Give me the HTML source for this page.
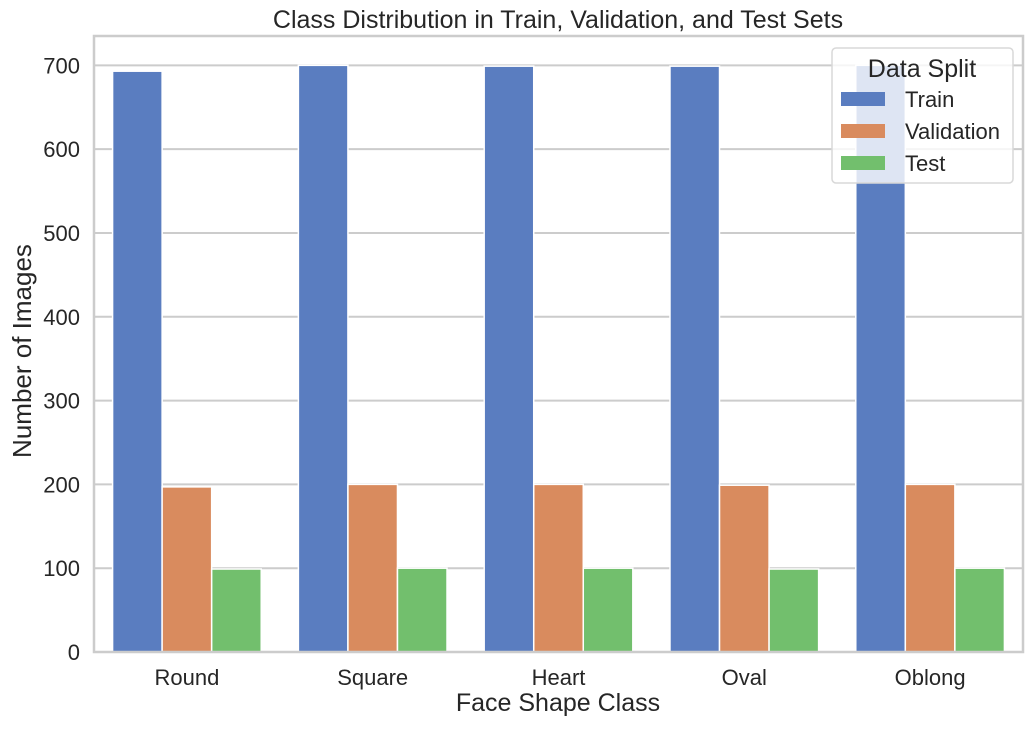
<!DOCTYPE html>
<html><head><meta charset="utf-8"><style>
body{margin:0;background:#fff;font-family:"Liberation Sans",sans-serif}
</style></head><body>
<svg id="chart" width="1034" height="728" xmlns="http://www.w3.org/2000/svg" font-family="Liberation Sans, sans-serif"></svg>
<script>
const categories=["Round","Square","Heart","Oval","Oblong"];
const seriesNames=["Train","Validation","Test"];
const trainValues=[693,700,699,699,700];
const validationValues=[197,200,200,199,200];
const testValues=[99,100,100,99,100];
const yTicks=[0,100,200,300,400,500,600,700];
const colors=["#5a7dc0","#d98b5e","#72bf6d"];
const L=94,R=1023,T=36,B=652,yMax=735;
const svg=document.getElementById('chart');
const NS="http://www.w3.org/2000/svg";
function mk(t,a,p){const e=document.createElementNS(NS,t);for(const k in a)e.setAttribute(k,a[k]);(p||svg).appendChild(e);return e;}
const step=(R-L)/categories.length;
function x(i){return L+step*(i+0.5);}
function y(v){return B-(B-T)*v/yMax;}
yTicks.forEach(v=>{
 const g=mk('line',{x1:L,x2:R,y1:y(v),y2:y(v),stroke:'#cccccc','stroke-width':2});
 
 const t=mk('text',{x:L-14,y:y(v)+8,'text-anchor':'end','font-size':22,fill:'#262626'});t.textContent=v;
 
});
const series=[trainValues,validationValues,testValues];
const bw=step*0.8/3;
series.forEach((vals,s)=>{vals.forEach((v,i)=>{
 const bx=x(i)-step*0.4+s*bw;
 const r=mk('rect',{x:bx,y:y(v),width:bw,height:B-y(v),fill:colors[s],stroke:'#fff','stroke-width':1.5});
 
 
});});
categories.forEach((c,i)=>{
 const t=mk('text',{x:x(i),y:685,'text-anchor':'middle','font-size':22,fill:'#262626'});t.textContent=c;
 
});
const sp=mk('rect',{x:L,y:T,width:R-L,height:B-T,fill:'none',stroke:'#cccccc','stroke-width':2.5});

</script>
<svg style="position:absolute;left:0;top:0" width="1034" height="728" xmlns="http://www.w3.org/2000/svg" font-family="Liberation Sans, sans-serif">
<text x="558" y="28" text-anchor="middle" font-size="25" fill="#262626">Class Distribution in Train, Validation, and Test Sets</text>
<text x="558" y="711" text-anchor="middle" font-size="25" fill="#262626">Face Shape Class</text>
<text x="0" y="0" transform="translate(31,351) rotate(-90)" text-anchor="middle" font-size="26" fill="#262626">Number of Images</text>
<g>
<rect x="832" y="48" width="181" height="135" rx="4" fill="#fff" fill-opacity="0.8" stroke="#d8d8d8" stroke-width="1.5"/>
<text x="922" y="77" text-anchor="middle" font-size="25" fill="#262626">Data Split</text>
<rect x="841" y="92" width="44" height="14" fill="#5a7dc0"/>
<text x="905" y="107" font-size="22" fill="#262626">Train</text>
<rect x="841" y="124" width="44" height="14" fill="#d98b5e"/>
<text x="905" y="139" font-size="22" fill="#262626">Validation</text>
<rect x="841" y="156" width="44" height="14" fill="#72bf6d"/>
<text x="905" y="171" font-size="22" fill="#262626">Test</text>
</g>
</svg>
</body></html>
